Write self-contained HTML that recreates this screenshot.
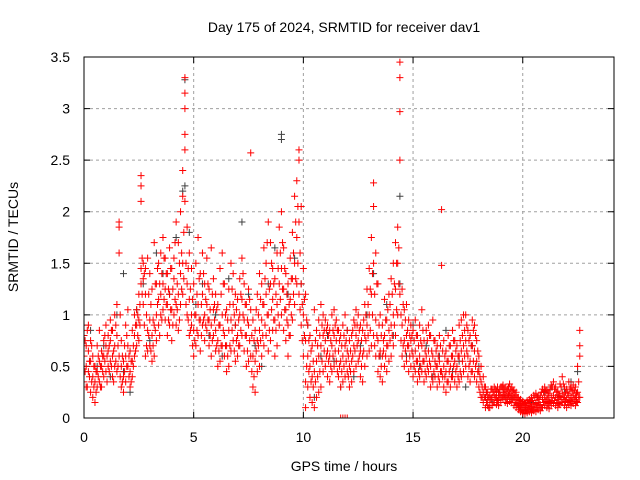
<!DOCTYPE html>
<html><head><meta charset="utf-8"><style>
body{margin:0;background:#fff;}
svg{display:block;font-family:"Liberation Sans",sans-serif;}
</style></head><body>
<svg id="chart" width="640" height="480" viewBox="0 0 640 480">
<defs><clipPath id="clip"><rect x="84" y="57" width="530" height="361"/></clipPath></defs>
<rect width="640" height="480" fill="#fff"/>
<text x="344" y="32" font-size="14" text-anchor="middle">Day 175 of 2024, SRMTID for receiver dav1</text>
<text transform="translate(18,237) rotate(-90)" font-size="14" text-anchor="middle">SRMTID / TECUs</text>
<text x="344" y="471" font-size="14" text-anchor="middle">GPS time / hours</text>
<g id="grid"></g>
<g id="ticks"></g>
<g id="gray" clip-path="url(#clip)"></g>
<g id="red" clip-path="url(#clip)"></g>
<rect x="84" y="57" width="530" height="361" fill="none" stroke="#000" stroke-width="1"/>
</svg>
<script>
const xTicks=[0,5,10,15,20];
const yTicks=[0,0.5,1,1.5,2,2.5,3,3.5];
const yTickLabels=["0","0.5","1","1.5","2","2.5","3","3.5"];
const redTimes=[0.0,0.1,0.2,0.3,0.4,0.5,0.6,0.7,0.8,0.9,1.0,1.1,1.2,1.3,1.4,1.5,1.6,1.7,1.8,1.9,2.0,2.1,2.2,2.3,2.4,2.5,2.6,2.7,2.8,2.9,3.0,3.1,3.2,3.3,3.4,3.5,3.6,3.7,3.8,3.9,4.0,4.1,4.2,4.3,4.4,4.5,4.6,4.7,4.8,4.9,5.0,5.1,5.2,5.3,5.4,5.5,5.6,5.7,5.8,5.9,6.0,6.1,6.2,6.3,6.4,6.5,6.6,6.7,6.8,6.9,7.0,7.1,7.2,7.3,7.4,7.5,7.6,7.7,7.8,7.9,8.0,8.1,8.2,8.3,8.4,8.5,8.6,8.7,8.8,8.9,9.0,9.1,9.2,9.3,9.4,9.5,9.6,9.7,9.8,9.9,10.0,10.1,10.2,10.3,10.4,10.5,10.6,10.7,10.8,10.9,11.0,11.1,11.2,11.3,11.4,11.5,11.6,11.7,11.8,11.9,12.0,12.1,12.2,12.3,12.4,12.5,12.6,12.7,12.8,12.9,13.0,13.1,13.2,13.3,13.4,13.5,13.6,13.7,13.8,13.9,14.0,14.1,14.2,14.3,14.4,14.5,14.6,14.7,14.8,14.9,15.0,15.1,15.2,15.3,15.4,15.5,15.6,15.7,15.8,15.9,16.0,16.1,16.2,16.3,16.4,16.5,16.6,16.7,16.8,16.9,17.0,17.1,17.2,17.3,17.4,17.5,17.6,17.7,17.8,17.9,18.0,18.1,18.2,18.3,18.4,18.5,18.6,18.7,18.8,18.9,19.0,19.1,19.2,19.3,19.4,19.5,19.6,19.7,19.8,19.9,20.0,20.1,20.2,20.3,20.4,20.5,20.6,20.7,20.8,20.9,21.0,21.1,21.2,21.3,21.4,21.5,21.6,21.7,21.8,21.9,22.0,22.1,22.2,22.3,22.4,22.5,22.6];
const redValues=[[.35,.6,.8],[.5,.7,.3],[.45,.65,.9],[.25,.55,.75],[.2,.4,.6],[.15,.35,.5],[.3,.45,.7],[.35,.55,.85],[.3,.5,.65],[.4,.6,.75],[.45,.7,.9],[.5,.65,.8],[.55,.75,.95],[.4,.6,.85],[.5,.7,1.0],[.45,.8,1.1],[.6,1.6,1.85,1.9],[.3,.5,.75],[.25,.4,.55],[.35,.6,.9],[.5,.7,1.05],[.3,.45,.65],[.4,.55,.85],[.6,.8,1.0],[.7,.9,1.05],[.75,.95,1.2],[1.3,1.45,2.1,2.25,2.35],[1.1,1.35,1.5],[.6,1.2,1.45],[.65,.85,1.55],[.7,.95,1.4],[.55,.8,1.25],[.6,.9,1.7],[.75,1.0,1.3],[.9,1.15,1.5],[1.0,1.2,1.6],[1.05,1.3,1.75],[.95,1.25,1.55],[.8,1.1,1.4],[.9,1.2,1.65],[.75,1.05,1.45],[1.0,1.35,1.55],[.9,1.1,1.9],[.85,1.2,1.7],[1.1,1.4,2.0],[1.2,1.5,2.15,2.4],[2.6,2.75,3.0,3.15,3.3,2.1],[1.0,1.3,1.85],[.8,1.15,1.6],[.9,1.0,1.45],[.6,.85,1.3],[.7,1.0,1.5],[.8,1.1,1.75],[.65,.95,1.4],[.9,1.2,1.6],[.75,1.0,1.3],[.85,1.1,1.55],[.7,.95,1.25],[.6,.9,1.65],[.8,1.05,1.35],[.65,.85,1.2],[.5,.75,1.1],[.55,.9,1.45],[.7,1.0,1.6],[.6,.8,1.3],[.45,.7,1.05],[.5,.85,1.25],[.65,.95,1.5],[.75,1.1,1.4],[.55,.9,1.2],[.6,.8,1.15],[.7,1.0,1.35],[.8,1.15,1.55],[.65,.95,1.3],[.5,.8,1.1],[.55,.9,1.25],[.6,1.05,2.57],[.3,.6,.95],[.25,.55,.85],[.45,.75,1.2],[.5,.85,1.4],[.6,.95,1.3],[.7,1.1,1.65],[.8,1.2,1.5],[.65,1.0,1.9],[.75,1.3,1.7],[.85,1.15,1.45],[.6,.95,1.35],[.7,1.1,1.6],[.9,1.3,1.85],[1.0,1.45,2.0],[.85,1.25,1.65],[.75,1.05,1.4],[.6,.9,1.3],[.8,1.15,1.55],[.95,1.35,1.8],[1.1,1.5,2.15],[1.3,1.75,2.3],[1.2,1.9,2.5,2.6],[.9,1.3,2.05],[.6,1.0,1.45],[.35,.75,1.2,.1],[.3,.6,.9],[.2,.5,.8],[.15,.4,.7],[.1,.45,1.05],[.2,.55,.85],[.25,.6,.95],[.3,.7,1.1],[.45,.8,1.0],[.5,.75,.95],[.4,.65,.9],[.35,.6,.85],[.45,.7,1.0],[.5,.8,1.05],[.55,.75,.95],[.4,.65,.85],[.3,.55,.8,0],[.35,.6,.9,0],[.4,.7,1.0,0],[.45,.65,.85,0],[.3,.5,.75],[.35,.55,.8],[.45,.7,.95],[.5,.8,1.05],[.55,.75,1.0],[.4,.65,.9],[.35,.6,.85],[.5,.8,1.1],[.6,.9,1.25],[.65,1.0,1.45],[.7,1.2,1.75],[.8,1.5,2.05,2.28],[.6,.95,1.6],[.45,.75,1.3],[.4,.65,1.0],[.35,.6,.9],[.5,.8,1.15],[.45,.7,.95],[.55,.85,1.2],[.6,.9,1.35],[.7,1.0,1.5],[.8,1.25,1.7],[1.0,1.5,1.85],[2.5,2.97,3.3,3.45,1.2],[.6,.9,1.25],[.5,.75,1.05],[.55,.8,1.1],[.45,.7,.95],[.5,.75,.9],[.4,.6,.85],[.45,.65,.95],[.35,.55,.8],[.4,.6,.9],[.45,.7,1.05],[.35,.55,.75],[.4,.6,.85],[.45,.65,.9],[.3,.5,.8],[.35,.6,.95],[.4,.55,.75],[.3,.5,.7],[.35,.55,.8],[.45,1.48,2.02],[.3,.5,.75],[.25,.45,.65],[.35,.55,.8],[.3,.5,.7],[.4,.6,.85],[.35,.55,.75],[.3,.5,.7],[.35,.6,.9],[.4,.65,.95],[.45,.7,1.0],[.5,.75,1.0],[.4,.6,.85],[.35,.55,.8],[.45,.7,.95],[.4,.65,.9],[.35,.55,.75],[.3,.45,.6],[.2,.35,.5],[.15,.25,.4],[.1,.2,.3],[.12,.18,.25],[.1,.15,.22],[.12,.2,.28],[.15,.22,.3],[.13,.2,.26],[.12,.18,.25],[.15,.22,.3],[.18,.25,.32],[.15,.22,.3],[.14,.2,.28],[.16,.24,.33],[.15,.22,.3],[.12,.2,.27],[.1,.18,.25],[.08,.14,.2],[.06,.12,.18],[.05,.1,.16],[.04,.1,.15],[.05,.1,.17],[.06,.12,.18],[.05,.11,.2],[.07,.13,.22],[.06,.14,.24],[.08,.15,.2],[.07,.13,.22],[.1,.18,.28],[.12,.2,.3],[.1,.18,.27],[.09,.16,.24],[.12,.2,.32],[.14,.22,.35],[.12,.2,.3],[.1,.18,.26],[.13,.21,.33],[.15,.24,.4],[.12,.2,.3],[.1,.18,.28],[.13,.22,.35],[.12,.2,.3],[.14,.22,.32],[.12,.2,.3],[.15,.25,.5],[.2,.6,.7,.85]];
const redTimesB=[0.05,0.15,0.25,0.35,0.45,0.55,0.65,0.75,0.85,0.95,1.05,1.15,1.25,1.35,1.45,1.55,1.65,1.75,1.85,1.95,2.05,2.15,2.25,2.35,2.45,2.55,2.65,2.75,2.85,2.95,3.05,3.15,3.25,3.35,3.45,3.55,3.65,3.75,3.85,3.95,4.05,4.15,4.25,4.35,4.45,4.55,4.65,4.75,4.85,4.95,5.05,5.15,5.25,5.35,5.45,5.55,5.65,5.75,5.85,5.95,6.05,6.15,6.25,6.35,6.45,6.55,6.65,6.75,6.85,6.95,7.05,7.15,7.25,7.35,7.45,7.55,7.65,7.75,7.85,7.95,8.05,8.15,8.25,8.35,8.45,8.55,8.65,8.75,8.85,8.95,9.05,9.15,9.25,9.35,9.45,9.55,9.65,9.75,9.85,9.95,10.05,10.15,10.25,10.35,10.45,10.55,10.65,10.75,10.85,10.95,11.05,11.15,11.25,11.35,11.45,11.55,11.65,11.75,11.85,11.95,12.05,12.15,12.25,12.35,12.45,12.55,12.65,12.75,12.85,12.95,13.05,13.15,13.25,13.35,13.45,13.55,13.65,13.75,13.85,13.95,14.05,14.15,14.25,14.35,14.45,14.55,14.65,14.75,14.85,14.95,15.05,15.15,15.25,15.35,15.45,15.55,15.65,15.75,15.85,15.95,16.05,16.15,16.25,16.35,16.45,16.55,16.65,16.75,16.85,16.95,17.05,17.15,17.25,17.35,17.45,17.55,17.65,17.75,17.85,17.95,18.05,18.15,18.25,18.35,18.45,18.55,18.65,18.75,18.85,18.95,19.05,19.15,19.25,19.35,19.45,19.55,19.65,19.75,19.85,19.95,20.05,20.15,20.25,20.35,20.45,20.55,20.65,20.75,20.85,20.95,21.05,21.15,21.25,21.35,21.45,21.55,21.65,21.75,21.85,21.95,22.05,22.15,22.25,22.35,22.45,22.55];
const redValuesB=[[.45,.75],[.3,.85],[.55,.4],[.7,.35],[.3,.5],[.25,.45],[.4,.6],[.5,.3],[.6,.45],[.55,.8],[.6,.35],[.7,.45],[.85,.5],[.65,.35],[.55,.9],[.7,.5],[1.0,.4],[.6,.35],[.45,.7],[.8,.5],[.6,.4],[.55,.35],[.7,.5],[.9,.65],[.8,1.0],[1.1,.9],[1.55,1.2],[1.4,.9],[1.0,.7],[1.2,.8],[1.1,.65],[.95,.7],[1.3,.85],[1.45,1.1],[1.3,.8],[1.4,.95],[1.55,1.15],[1.1,1.4],[1.25,.95],[1.05,1.45],[1.25,.9],[1.15,1.7],[1.3,1.05],[1.5,.95],[1.6,1.25],[1.8,1.35],[1.5,1.1],[1.45,.95],[1.25,.85],[1.15,.7],[1.0,.75],[1.2,.85],[.95,1.35],[1.1,.8],[1.4,.95],[.9,1.15],[1.3,.95],[1.05,.8],[1.2,.75],[.95,1.1],[1.05,.7],[.9,.65],[1.2,.7],[.85,1.3],[1.0,.7],[.6,.95],[1.1,.7],[.85,1.25],[1.0,.65],[.75,1.05],[.95,.7],[1.2,.85],[1.0,1.4],[.8,1.1],[.65,.95],[.75,1.15],[.8,.45],[.75,.4],[.65,1.05],[.7,1.0],[.75,1.15],[1.1,.8],[.9,1.35],[1.0,1.7],[.85,1.25],[1.05,1.5],[1.3,.95],[.85,1.2],[1.0,1.45],[1.15,1.6],[1.25,1.7],[1.05,1.45],[.95,1.2],[.8,1.1],[1.0,1.35],[1.2,1.6],[1.35,1.9],[1.5,2.05],[1.6,1.05],[1.1,.75],[.8,1.15],[.5,.95],[.45,.75],[.35,.65],[.3,.55],[.35,.75],[.4,.7],[.45,.8],[.55,.9],[.65,.85],[.6,.85],[.55,.8],[.5,.75],[.6,.85],[.65,.9],[.45,.85],[.5,.75],[.45,.7],[.5,.8],[.55,.75],[.4,.6],[.45,.65],[.6,.85],[.65,.9],[.7,.9],[.6,.85],[.5,.75],[.65,.95],[.75,1.0],[.8,1.1],[.85,1.25],[1.0,1.4],[1.2,.7],[.8,1.3],[.6,.9],[.5,.8],[.65,.75],[.6,.95],[.7,1.05],[.75,1.1],[.8,1.2],[.9,1.3],[1.05,1.5],[1.3,1.65],[1.0,.75],[.7,1.1],[.65,.95],[.7,.85],[.6,.8],[.65,.8],[.5,.75],[.55,.8],[.45,.7],[.5,.75],[.55,.85],[.45,.65],[.5,.75],[.55,.8],[.4,.65],[.45,.75],[.5,.65],[.4,.6],[.45,.7],[.4,.65],[.4,.6],[.35,.55],[.45,.7],[.4,.6],[.5,.75],[.45,.65],[.4,.6],[.45,.75],[.55,.8],[.6,.85],[.65,.9],[.5,.75],[.45,.7],[.55,.85],[.5,.8],[.45,.65],[.4,.25],[.3,.2],[.2,.3],[.15,.25],[.2,.1],[.18,.28],[.25,.15],[.2,.28],[.17,.3],[.22,.28],[.2,.3],[.22,.28],[.18,.26],[.22,.3],[.2,.28],[.18,.26],[.15,.22],[.13,.2],[.1,.17],[.08,.14],[.07,.13],[.07,.12],[.08,.14],[.09,.16],[.08,.17],[.1,.2],[.1,.2],[.12,.18],[.1,.25],[.15,.25],[.16,.26],[.14,.22],[.15,.28],[.17,.3],[.17,.28],[.15,.25],[.14,.22],[.18,.3],[.2,.33],[.16,.25],[.15,.24],[.17,.28],[.16,.26],[.18,.27],[.16,.24],[.2,.35]];
const grayTimes=[0.0,0.3,0.6,0.9,1.2,1.5,1.8,2.1,2.4,2.7,3.0,3.3,3.6,3.9,4.2,4.5,4.6,4.8,5.1,5.4,5.7,6.0,6.3,6.6,6.9,7.2,7.5,7.8,8.1,8.4,8.7,9.0,9.3,9.6,9.9,10.2,10.5,10.8,11.1,11.4,11.7,12.0,12.3,12.6,12.9,13.2,13.5,13.8,14.1,14.4,14.7,15.0,15.3,15.6,15.9,16.2,16.5,16.8,17.1,17.4,17.7,18.0,18.3,18.6,18.9,19.2,19.5,19.8,20.1,20.4,20.7,21.0,21.3,21.6,21.9,22.2,22.5];
const grayValues=[[.9,.3],[.85],[.5],[.7],[.4],[1.0],[.45,1.4],[.25],[1.05],[1.3],[.75],[1.6],[1.4],[1.2],[1.75],[2.2],[3.28,2.25],[1.8],[1.1],[1.3],[.8],[1.0],[.6],[1.35],[.9],[1.9],[1.2],[.7],[.5],[1.3],[1.65],[2.75,2.7],[1.2],[1.55],[1.3],[.9],[.2],[.6],[.8],[.55],[.3],[.85],[.4],[.7],[1.0],[1.4],[.6],[1.1],[.8],[2.15,1.3],[.6],[.9],[.5],[.7],[.4],[.6],[.85],[.45],[.55],[.3],[.7],[.5],[.2],[.15],[.25],[.2],[.18],[.12],[.08],[.15],[.2],[.25],[.3],[.2],[.28],[.35],[.45]];

const X0=84,X1=614,Y0=418,Y1=57,XMAX=24.16,YMAX=3.5;
const sx=t=>X0+(X1-X0)*t/XMAX;
const sy=v=>Y0-(Y0-Y1)*v/YMAX;
const NS='http://www.w3.org/2000/svg';
const grid=document.getElementById('grid'),ticks=document.getElementById('ticks');
function mk(tag,attrs,parent){const e=document.createElementNS(NS,tag);for(const k in attrs)e.setAttribute(k,attrs[k]);parent.appendChild(e);return e;}
xTicks.forEach(t=>{
  const x=sx(t);
  if(t>0){const g=mk('line',{x1:x,x2:x,y1:Y0,y2:Y1,stroke:'#a0a0a0','stroke-dasharray':'3,3','stroke-width':1},grid);
  
  }
  const tk=mk('path',{d:`M${x},${Y0}v-6M${x},${Y1}v6`,stroke:'#000'},ticks);
  
  
  const lb=mk('text',{x:x,y:Y0+24,'font-size':14,'text-anchor':'middle'},ticks);lb.textContent=String(t);
  
  
});
yTicks.forEach((v,i)=>{
  const y=sy(v);
  if(v>0&&v<YMAX){const g=mk('line',{x1:X0,x2:X1,y1:y,y2:y,stroke:'#a0a0a0','stroke-dasharray':'3,3','stroke-width':1},grid);
  
  }
  const tk=mk('path',{d:`M${X0},${y}h6M${X1},${y}h-6`,stroke:'#000'},ticks);
  
  
  const lb=mk('text',{x:X0-14,y:y+5,'font-size':14,'text-anchor':'end'},ticks);lb.textContent=yTickLabels[i];
  
  
});
function plot(times,vals,gid,color,name){
  const g=document.getElementById(gid);
  times.forEach((t,i)=>{vals[i].forEach(v=>{
    const x=sx(t),y=sy(v);
    const p=mk('path',{d:`M${x-3.5},${y}h7M${x},${y-3.5}v7`,stroke:color,'stroke-width':1},g);
    
    
  });});
}
plot(grayTimes,grayValues,'gray','#404040','gray-point');
plot(redTimes,redValues,'red','#ff0000','red-point');
plot(redTimesB,redValuesB,'red','#ff0000','red-point');
</script>
</body></html>
